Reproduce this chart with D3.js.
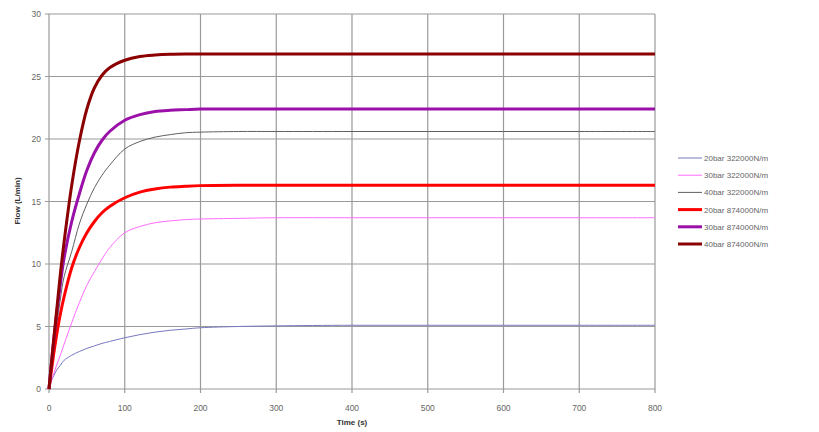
<!DOCTYPE html>
<html>
<head>
<meta charset="utf-8">
<script src="https://cdn.jsdelivr.net/npm/d3@7"></script>
<style>
  body { margin: 0; background: #fff; }
  text { font-family: Arial, "Liberation Sans", sans-serif; }
</style>
</head>
<body>
<div id="chart"></div>
<script>
const width = 819, height = 432;

// time (s) shared by all series
const times = [0, 5, 10, 15, 20, 30, 40, 50, 60, 70, 80, 100, 120, 140, 160, 180, 200, 250, 300, 400, 500, 600, 700, 800];

const flow20bar322 = [0.3, 0.9, 1.5, 1.9, 2.3, 2.7, 3.0, 3.25, 3.45, 3.65, 3.8, 4.1, 4.35, 4.55, 4.7, 4.8, 4.9, 5.0, 5.05, 5.1, 5.1, 5.1, 5.1, 5.1];
const flow30bar322 = [0, 1.0, 1.9, 2.7, 3.6, 5.3, 6.9, 8.3, 9.4, 10.4, 11.3, 12.5, 13.0, 13.3, 13.45, 13.55, 13.6, 13.65, 13.7, 13.7, 13.7, 13.7, 13.7, 13.7];
const flow40bar322 = [0, 2.5, 5.0, 7.2, 9.0, 11.0, 13.2, 14.8, 16.1, 17.1, 17.9, 19.2, 19.8, 20.15, 20.35, 20.5, 20.55, 20.6, 20.6, 20.6, 20.6, 20.6, 20.6, 20.6];
const flow20bar874 = [0, 2.3, 4.3, 6.0, 7.4, 9.7, 11.3, 12.5, 13.4, 14.1, 14.6, 15.3, 15.75, 16.0, 16.15, 16.22, 16.27, 16.3, 16.3, 16.3, 16.3, 16.3, 16.3, 16.3];
const flow30bar874 = [0, 3.2, 6.0, 8.4, 10.5, 13.4, 15.6, 17.5, 18.9, 19.9, 20.6, 21.5, 21.95, 22.2, 22.3, 22.35, 22.4, 22.4, 22.4, 22.4, 22.4, 22.4, 22.4, 22.4];
const flow40bar874 = [0, 3.2, 6.2, 9.2, 11.8, 16.3, 19.8, 22.4, 24.1, 25.1, 25.7, 26.3, 26.6, 26.72, 26.78, 26.8, 26.8, 26.8, 26.8, 26.8, 26.8, 26.8, 26.8, 26.8];

const seriesNames = ["20bar 322000N/m", "30bar 322000N/m", "40bar 322000N/m", "20bar 874000N/m", "30bar 874000N/m", "40bar 874000N/m"];
const seriesValues = [flow20bar322, flow30bar322, flow40bar322, flow20bar874, flow30bar874, flow40bar874];
const seriesColors = ["#7878c0", "#ff6cff", "#606060", "#ff0000", "#9a10a8", "#8b0000"];
const seriesWidths = [1, 1, 1, 3, 3, 3];

const xTicks = [0, 100, 200, 300, 400, 500, 600, 700, 800];
const yTicks = [0, 5, 10, 15, 20, 25, 30];

const margin = {left: 49, right: 164, top: 14, bottom: 43};

const svg = d3.select("#chart").append("svg")
    .attr("width", width)
    .attr("height", height);

const x = d3.scaleLinear().domain([0, 800]).range([margin.left, width - margin.right]);
const y = d3.scaleLinear().domain([0, 30]).range([height - margin.bottom, margin.top]);

// grid
const grid = svg.append("g");
grid.selectAll(".vg")
    .data(xTicks)
    .enter().append("line")
    .attr("x1", d => x(d)).attr("x2", d => x(d))
    .attr("y1", y(30)).attr("y2", y(0) + 4)
    .attr("stroke", "#9a9a9a")
    .attr("stroke-width", 1.2);
grid.selectAll(".hg")
    .data(yTicks)
    .enter().append("line")
    .attr("x1", x(0) - 4).attr("x2", x(800))
    .attr("y1", d => y(d)).attr("y2", d => y(d))
    .attr("stroke", "#9a9a9a")
    .attr("stroke-width", 1.2);

// tick labels
svg.append("g").selectAll("text")
    .data(xTicks)
    .enter().append("text")
    .attr("x", d => x(d))
    .attr("y", y(0) + 22)
    .attr("text-anchor", "middle")
    .attr("font-size", 8.5)
    .attr("fill", "#666")
    .text(d => d);

svg.append("g").selectAll("text")
    .data(yTicks)
    .enter().append("text")
    .attr("x", x(0) - 8)
    .attr("y", d => y(d) + 3)
    .attr("text-anchor", "end")
    .attr("font-size", 8.5)
    .attr("fill", "#666")
    .text(d => d);

// axis titles
svg.append("text")
    .attr("x", (x(0) + x(800)) / 2)
    .attr("y", 425)
    .attr("text-anchor", "middle")
    .attr("font-size", 8)
    .attr("font-weight", "bold")
    .attr("fill", "#333")
    .text("Time (s)");

svg.append("text")
    .attr("transform", "translate(20," + 201 + ") rotate(-90)")
    .attr("text-anchor", "middle")
    .attr("font-size", 8)
    .attr("font-weight", "bold")
    .attr("fill", "#333")
    .text("Flow (L/min)");

// curves
const line = d3.line()
    .x((d, i) => x(times[i]))
    .y(d => y(d))
    .curve(d3.curveCatmullRom.alpha(0.5));

svg.append("g").selectAll("path")
    .data(seriesValues)
    .enter().append("path")
    .attr("d", d => line(d))
    .attr("fill", "none")
    .attr("stroke", (d, i) => seriesColors[i])
    .attr("stroke-width", (d, i) => seriesWidths[i]);

// legend
const legend = svg.append("g")
    .attr("transform", "translate(678, 158)");

const rows = legend.selectAll("g")
    .data(seriesNames)
    .enter().append("g")
    .attr("transform", (d, i) => "translate(0," + (i * 17.2) + ")");

rows.append("line")
    .attr("x1", 0).attr("x2", 24)
    .attr("y1", 0).attr("y2", 0)
    .attr("stroke", (d, i) => seriesColors[i])
    .attr("stroke-width", (d, i) => seriesWidths[i]);

rows.append("text")
    .attr("x", 26)
    .attr("y", 3)
    .attr("font-size", 8)
    .attr("fill", "#666")
    .text(d => d);
</script>
</body>
</html>
